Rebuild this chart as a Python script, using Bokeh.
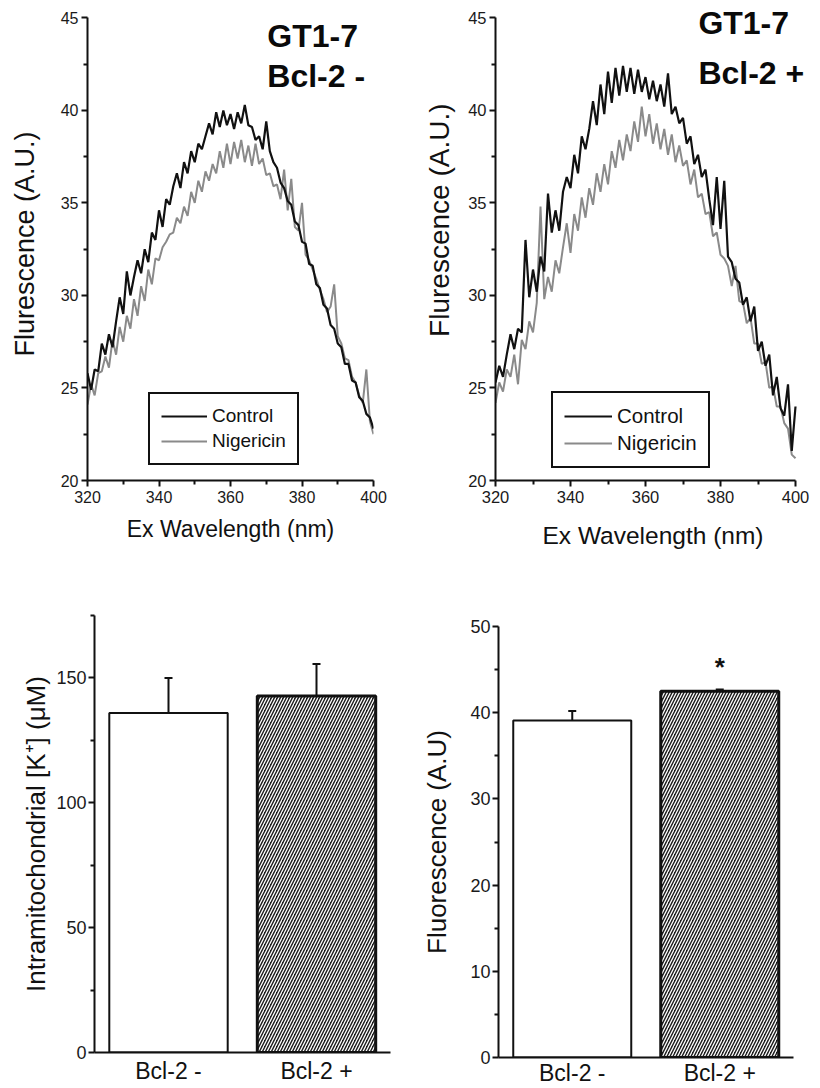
from bokeh.plotting import figure
from bokeh.models import (Range1d, FactorRange, Legend, LegendItem, Label, FixedTicker,
                          ColumnDataSource, Whisker, TeeHead)
from bokeh.layouts import column, row
from bokeh.embed import file_html
from bokeh.resources import INLINE
from bokeh.core.properties import value

FONT = "Liberation Sans"

# ---------------- data ----------------
wavelength = list(range(320, 401))

neg_control = [25.8, 24.9, 26.0, 25.9, 27.4, 26.8, 27.9, 27.2, 28.6, 29.9,
               29.0, 31.3, 30.0, 31.0, 31.9, 31.2, 32.5, 31.8, 33.4, 33.0,
               34.6, 33.7, 35.2, 34.9, 35.9, 36.6, 35.8, 37.2, 36.6, 37.8,
               37.2, 38.2, 37.9, 38.6, 39.3, 38.7, 39.9, 39.1, 40.0, 39.2,
               39.8, 39.0, 39.9, 39.3, 40.3, 39.2, 39.1, 38.4, 38.6, 37.9,
               39.4, 37.8, 37.2, 36.9, 36.1, 35.8, 35.1, 34.9, 34.0, 33.8,
               32.9, 32.8, 31.7, 31.6, 30.6, 30.4, 29.5, 29.3, 28.4, 28.2,
               27.4, 27.2, 26.3, 26.3, 25.4, 25.3, 24.5, 24.3, 23.6, 23.4,
               22.8]

neg_nigericin = [24.1, 25.2, 24.6, 25.8, 25.9, 26.7, 26.1, 27.6, 26.8, 28.3,
                 27.5, 28.9, 28.2, 29.8, 28.9, 30.5, 29.7, 31.4, 30.6, 32.0,
                 31.9, 32.6, 32.9, 33.3, 33.4, 34.2, 33.9, 34.8, 34.3, 35.6,
                 35.0, 36.2, 35.6, 36.7, 36.2, 37.1, 36.6, 37.8, 36.9, 38.2,
                 37.1, 38.3, 37.4, 38.4, 37.2, 38.1, 37.0, 38.2, 37.1, 37.4,
                 36.5, 36.6, 35.9, 36.0, 35.2, 36.8, 34.6, 36.3, 33.7, 33.5,
                 35.0, 32.2, 31.9, 31.4, 30.9, 30.3, 29.8, 29.1, 29.4, 30.6,
                 27.8, 27.4, 26.6, 26.5, 25.6, 25.3, 24.6, 24.2, 26.0, 23.2,
                 22.5]

pos_control = [25.3, 26.2, 25.6, 26.8, 27.9, 27.1, 28.2, 28.0, 33.0, 29.9,
               31.4, 30.2, 32.1, 31.3, 35.5, 33.4, 34.6, 33.5, 35.6, 36.4,
               35.8, 37.6, 36.6, 38.6, 37.9, 39.0, 40.5, 39.2, 41.4, 39.8,
               42.1, 40.4, 42.3, 40.8, 42.4, 41.0, 42.3, 40.9, 42.2, 41.0,
               41.8, 40.6, 41.6, 40.5, 41.4, 40.2, 42.0, 39.8, 40.2, 39.3,
               39.6, 38.2, 38.6, 37.1, 37.6, 36.4, 36.8, 35.2, 33.8, 36.4,
               33.6, 36.2, 32.1, 31.8, 30.9, 30.7, 29.5, 29.9, 28.6, 29.4,
               27.0, 27.5, 26.2, 26.8, 24.6, 25.6, 23.9, 23.5, 25.2, 21.6,
               24.0]

pos_nigericin = [24.2, 25.3, 24.8, 26.0, 25.6, 26.8, 25.2, 27.6, 27.1, 28.6,
                 28.0, 29.6, 34.8, 29.8, 31.0, 30.2, 31.9, 31.2, 32.6, 33.9,
                 32.3, 34.4, 33.5, 35.3, 34.2, 35.8, 34.9, 36.6, 35.6, 37.1,
                 36.0, 37.8, 36.9, 38.4, 37.3, 38.7, 37.8, 39.4, 38.3, 40.2,
                 38.6, 39.8, 38.2, 39.3, 37.9, 39.0, 37.6, 38.7, 37.2, 38.1,
                 37.0, 37.3, 36.0, 36.8, 35.3, 35.5, 34.4, 34.5, 33.2, 33.4,
                 32.2, 32.0, 31.6, 30.5, 31.6, 29.7, 29.6, 28.5, 28.8, 27.4,
                 27.4, 26.3, 26.4, 25.0, 25.1, 24.0, 24.0, 23.1, 22.8, 21.4,
                 21.2]

x_ticks = [320, 340, 360, 380, 400]
x_minor = [330, 350, 370, 390]
y_ticks = [20, 25, 30, 35, 40, 45]
y_minor = [22.5, 27.5, 32.5, 37.5, 42.5]

bar_categories = ["Bcl-2 -", "Bcl-2 +"]
k_mean = [136.0, 142.8]
k_err = [14.0, 12.8]
k_ticks = [0, 50, 100, 150]
k_minor = [25, 75, 125, 175]

fl_mean = [39.1, 42.5]
fl_err = [1.1, 0.2]
fl_ticks = [0, 10, 20, 30, 40, 50]
fl_minor = [5, 15, 25, 35, 45]


def style_axes(p, tick_size, label_size):
    p.outline_line_color = None
    p.xgrid.grid_line_color = None
    p.ygrid.grid_line_color = None
    p.background_fill_color = "white"
    p.border_fill_color = "white"
    for ax in (p.xaxis[0], p.yaxis[0]):
        ax.axis_line_width = 2
        ax.axis_line_color = "#111111"
        ax.major_tick_line_width = 2
        ax.minor_tick_line_width = 2
        ax.major_tick_line_color = "#111111"
        ax.minor_tick_line_color = "#111111"
        ax.major_tick_in = 0
        ax.minor_tick_in = 0
        ax.major_tick_out = 6
        ax.minor_tick_out = 4
        ax.major_label_text_font = FONT
        ax.major_label_text_font_size = tick_size
        ax.major_label_text_color = "#1a1a1a"
        ax.axis_label_text_font = FONT
        ax.axis_label_text_font_size = label_size
        ax.axis_label_text_font_style = "normal"
        ax.axis_label_text_color = "#111111"


def spectrum(ctrl, nig, left, right, x_end, title_x, title_y1, title_y2, title2,
             leg_loc, leg_font, leg_glyph, tick_size, xlabel_size, xlabel_standoff, ylab_as_title):
    p = figure(width=410, height=560, x_range=Range1d(320, x_end), y_range=Range1d(20, 45.56),
               output_backend="svg", toolbar_location=None,
               min_border_left=left, min_border_right=right,
               min_border_top=7, min_border_bottom=80,
               title=("Flurescence (A.U.)" if ylab_as_title else None),
               title_location="left")
    style_axes(p, tick_size, xlabel_size)
    p.xaxis.ticker = FixedTicker(ticks=x_ticks, minor_ticks=x_minor)
    p.yaxis.ticker = FixedTicker(ticks=y_ticks, minor_ticks=y_minor)
    p.xaxis.bounds = (320, 400)
    p.yaxis.bounds = (20, 45)
    p.xaxis.axis_label = "Ex Wavelength (nm)"
    p.xaxis.axis_label_standoff = xlabel_standoff
    p.xaxis.major_label_standoff = 4
    p.yaxis.major_label_standoff = 3
    if ylab_as_title:
        p.title.align = "right"
        p.title.offset = 96
        p.title.standoff = 22
        p.title.text_font = FONT
        p.title.text_font_size = "28px"
        p.title.text_font_style = "normal"
        p.title.text_color = "#111111"
    else:
        p.yaxis.axis_label = "Flurescence (A.U.)"
        p.yaxis.axis_label_text_font_size = "27px"
        p.yaxis.axis_label_standoff = 18

    src = ColumnDataSource(dict(x=wavelength, c=ctrl, n=nig))
    rn = p.line("x", "n", source=src, line_color="#8a8a8a", line_width=2.0)
    rc = p.line("x", "c", source=src, line_color="#111111", line_width=2.2)

    leg = Legend(items=[LegendItem(label="Control", renderers=[rc]),
                        LegendItem(label="Nigericin", renderers=[rn])],
                 location=leg_loc)
    leg.border_line_color = "#111111"
    leg.border_line_width = 2
    leg.border_line_alpha = 1
    leg.background_fill_color = "white"
    leg.background_fill_alpha = 1
    leg.label_text_font = FONT
    leg.label_text_font_size = leg_font
    leg.label_text_color = "#111111"
    leg.glyph_width = leg_glyph
    leg.glyph_height = 20
    leg.label_height = 20
    leg.label_standoff = 5
    leg.padding = 11
    leg.spacing = 3
    leg.margin = 0
    p.add_layout(leg)

    p.add_layout(Label(x=title_x, y=title_y1, text="GT1-7", text_font=FONT,
                       text_font_size="32px", text_font_style="bold", text_color="#0a0a0a"))
    p.add_layout(Label(x=title_x, y=title_y2, text=title2, text_font=FONT,
                       text_font_size="32px", text_font_style="bold", text_color="#0a0a0a"))
    return p


p1 = spectrum(neg_control, neg_nigericin, 87, 37, 400, 370.3, 43.06, 40.9, "Bcl-2 -",
              (61, 15), "19px", 46, "16px", "23px", 10, False)
p2 = spectrum(pos_control, pos_nigericin, 85, 10, 404, 374.1, 43.76, 41.06, "Bcl-2 +",
              (56, 12), "20.5px", 48, "16.5px", "24.5px", 16, True)


def bars(mean, err, ylabel, yr, ticks, minor, left, right, top, bottom, ystandoff,
         xstandoff, star):
    p = figure(width=410, height=528, x_range=FactorRange(*bar_categories, range_padding=0),
               y_range=Range1d(0, yr), output_backend="svg", toolbar_location=None,
               min_border_left=left, min_border_right=right,
               min_border_top=top, min_border_bottom=bottom)
    style_axes(p, "18px", "26px")
    p.yaxis.ticker = FixedTicker(ticks=ticks, minor_ticks=minor)
    p.yaxis.axis_label = ylabel
    p.yaxis.axis_label_standoff = ystandoff
    p.yaxis.major_label_standoff = 2
    p.xaxis.major_tick_line_color = None
    p.xaxis.minor_tick_line_color = None
    p.xaxis.major_tick_out = 0
    p.xaxis.minor_tick_out = 0
    p.xaxis.major_label_text_font_size = "23px"
    p.xaxis.major_label_text_color = "#111111"
    p.xaxis.major_label_standoff = xstandoff

    p.vbar(x=[bar_categories[0]], top=[mean[0]], width=0.8, bottom=0,
           fill_color="white", line_color="#111111", line_width=2)
    p.vbar(x=[bar_categories[1]], top=[mean[1]], width=0.8, bottom=0,
           fill_color="#1c1c1c", line_color="#111111", line_width=3,
           hatch_pattern="/", hatch_color="white", hatch_scale=6, hatch_weight=1.3)

    esrc = ColumnDataSource(dict(x=bar_categories, lower=mean,
                                 upper=[m + e for m, e in zip(mean, err)]))
    w = Whisker(base="x", lower="lower", upper="upper", source=esrc,
                line_color="#111111", line_width=2,
                upper_head=TeeHead(size=8, line_width=2, line_color="#111111"),
                lower_head=None)
    p.add_layout(w)
    if star:
        ssrc = ColumnDataSource(dict(x=[bar_categories[1]],
                                     y=[mean[1] + err[1] + 2.6], t=["*"]))
        p.text("x", "y", text="t", source=ssrc, text_align="center", text_baseline="middle",
               text_font=value(FONT), text_font_size="26px", text_font_style="bold",
               text_color="#111111")
    return p


p3 = bars(k_mean, k_err, "Intramitochondrial [K\u207a] (\u03bcM)", 175, k_ticks, k_minor,
          94, 20, 55, 36, 2, 5, False)
p4 = bars(fl_mean, fl_err, "Fluorescence (A.U)", 50, fl_ticks, fl_minor,
          88, 27, 66, 29, 15, 2, True)

layout = column(row(p1, p2), row(column(p3), column(p4)))
open("out.html", "w").write(file_html(layout, INLINE))
